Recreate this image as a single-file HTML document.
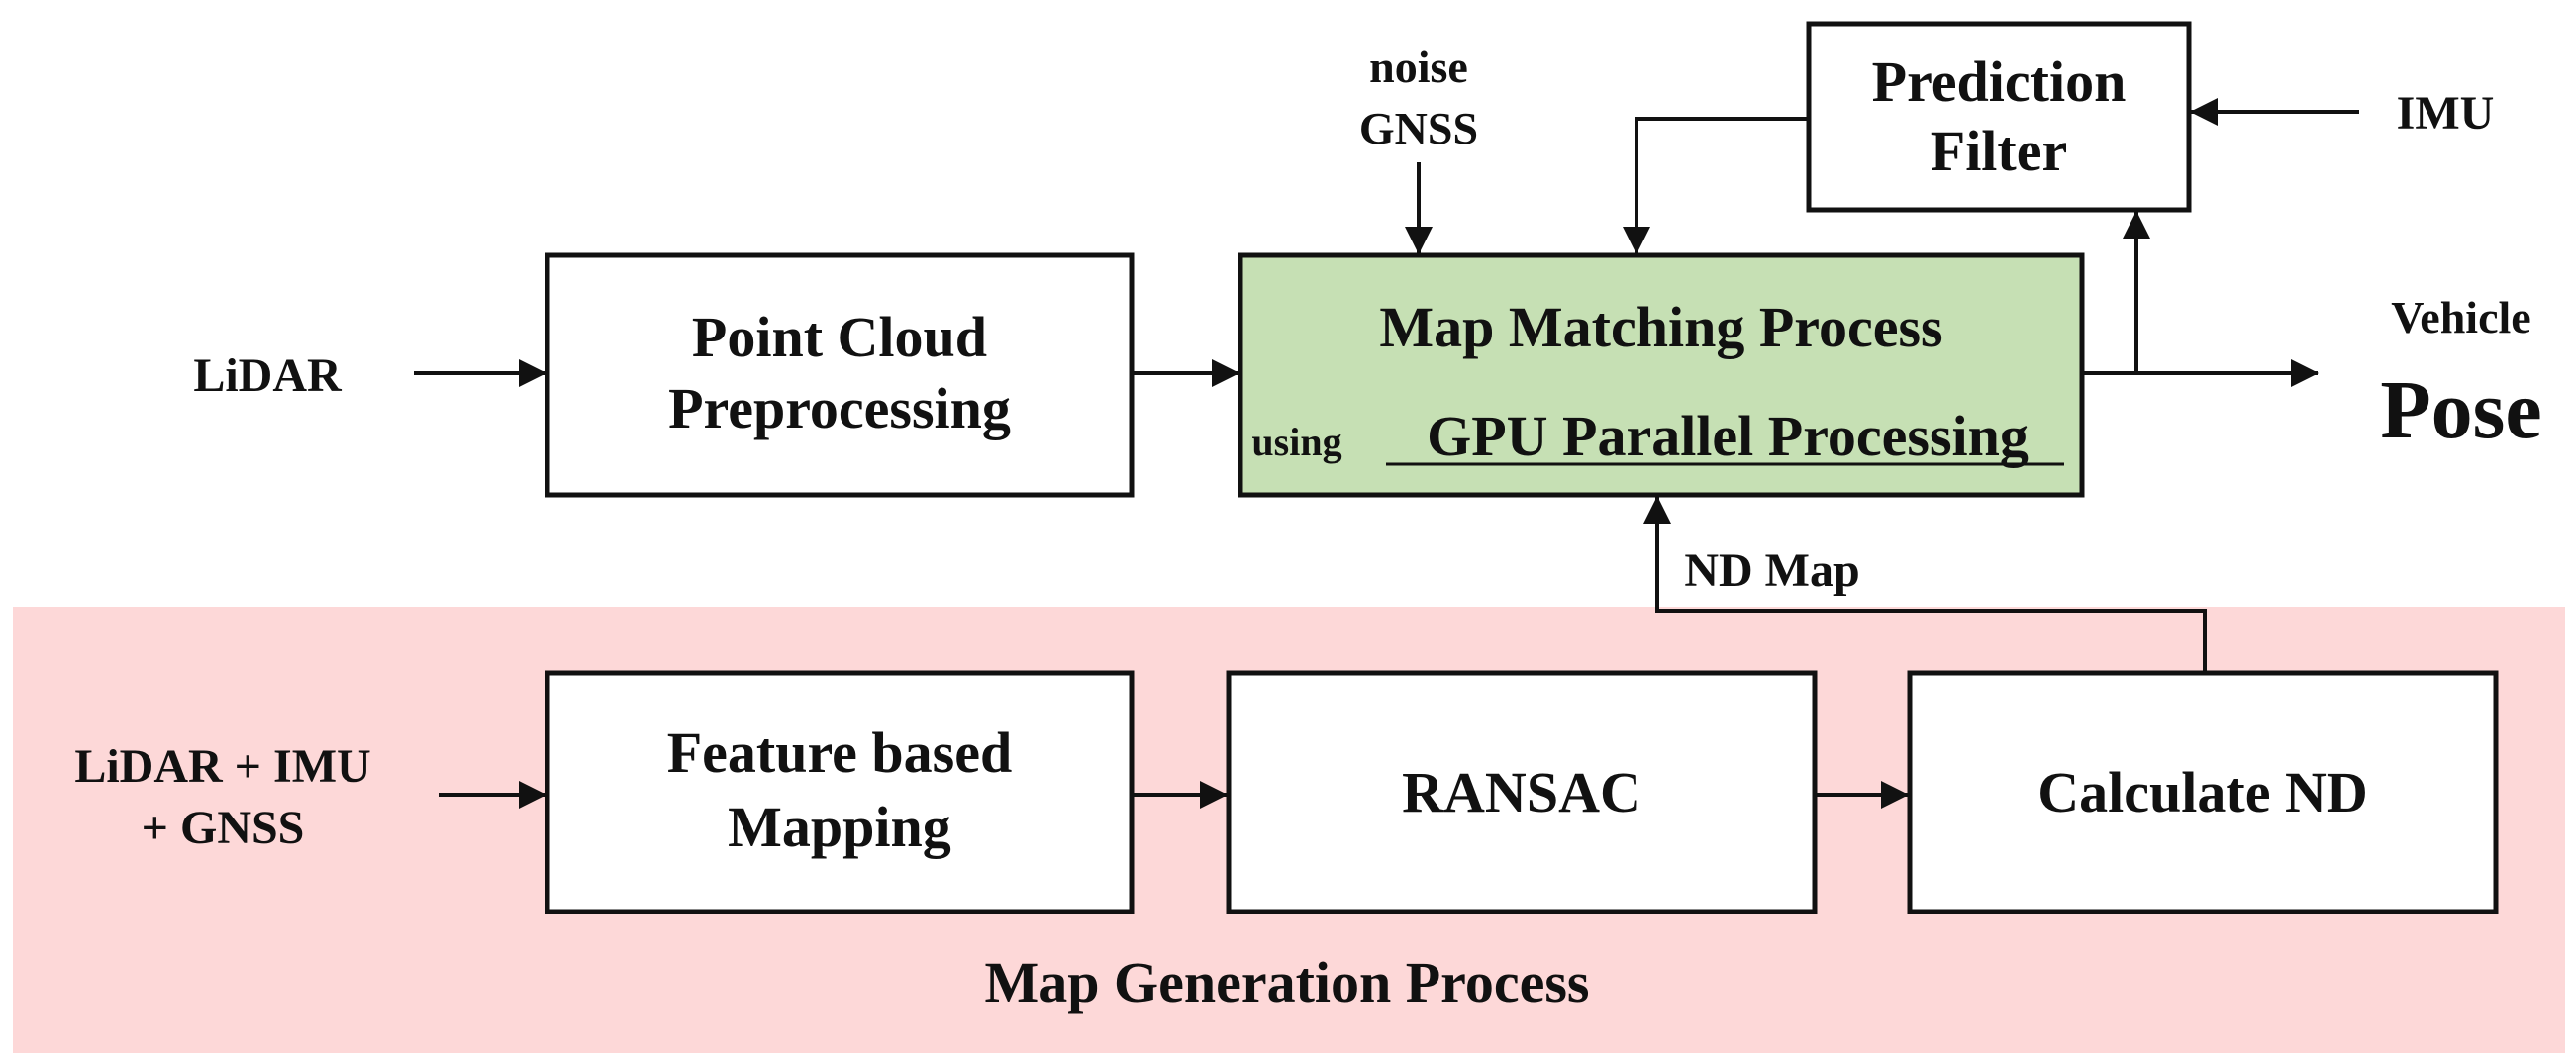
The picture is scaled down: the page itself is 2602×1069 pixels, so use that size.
<!DOCTYPE html>
<html><head><style>
body{margin:0;background:#fff;}
svg text{font-family:"Liberation Serif",serif;fill:#111;}
</style></head><body>
<svg width="2602" height="1064" viewBox="0 0 2602 1064" xmlns="http://www.w3.org/2000/svg">
<defs>
<marker id="b" markerWidth="28" markerHeight="28" refX="27" refY="14" orient="auto" markerUnits="userSpaceOnUse"><path d="M0,0 L28,14 L0,28 z" fill="#111"/></marker></defs>
<rect x="13" y="613" width="2578" height="451" fill="#fdd8d8"/>
<g fill="#fff" stroke="#111" stroke-width="5">
<rect x="553" y="258" width="590" height="242"/>
<rect x="1253" y="258" width="850" height="242" fill="#c6e0b4"/>
<rect x="1827" y="24" width="384" height="188"/>
<rect x="553" y="680" width="590" height="241"/>
<rect x="1241" y="680" width="592" height="241"/>
<rect x="1929" y="680" width="592" height="241"/>
</g>
<g stroke="#111" stroke-width="4" fill="none" marker-end="url(#b)">
<line x1="418" y1="377" x2="551" y2="377"/>
<line x1="1143" y1="377" x2="1251" y2="377"/>
<line x1="2103" y1="377" x2="2341" y2="377"/>
<line x1="2158" y1="377" x2="2158" y2="214"/>
<line x1="1433" y1="164" x2="1433" y2="256"/>
<polyline points="1827,120 1653,120 1653,256"/>
<line x1="2383" y1="113" x2="2213" y2="113"/>
<polyline points="2227,680 2227,617 1674,617 1674,502"/>
<line x1="443" y1="803" x2="551" y2="803"/>
<line x1="1143" y1="803" x2="1239" y2="803"/>
<line x1="1833" y1="803" x2="1927" y2="803"/>
</g>
<line x1="1400" y1="469" x2="2085" y2="469" stroke="#111" stroke-width="3"/>
<g font-size="58" text-anchor="middle" font-weight="bold">
<text x="848" y="360">Point Cloud</text>
<text x="848" y="432">Preprocessing</text>
<text x="1678" y="350">Map Matching Process</text>
<text x="1745" y="460">GPU Parallel Processing</text>
<text x="1310" y="460" font-size="40">using</text>
<text x="2019" y="102">Prediction</text>
<text x="2019" y="172">Filter</text>
<text x="848" y="780">Feature based</text>
<text x="848" y="855">Mapping</text>
<text x="1537" y="820">RANSAC</text>
<text x="2225" y="820">Calculate ND</text>
<text x="1300" y="1012">Map Generation Process</text>
<text x="1433" y="83" font-size="46">noise</text>
<text x="1433" y="145" font-size="46">GNSS</text>
<text x="270" y="395" font-size="48">LiDAR</text>
<text x="2470" y="130" font-size="48">IMU</text>
<text x="2486" y="336" font-size="46">Vehicle</text>
<text x="2486" y="442" font-size="84">Pose</text>
<text x="1790" y="592" font-size="48">ND Map</text>
<text x="225" y="790" font-size="48">LiDAR + IMU</text>
<text x="225" y="852" font-size="48">+ GNSS</text>
</g>
</svg>
</body></html>
